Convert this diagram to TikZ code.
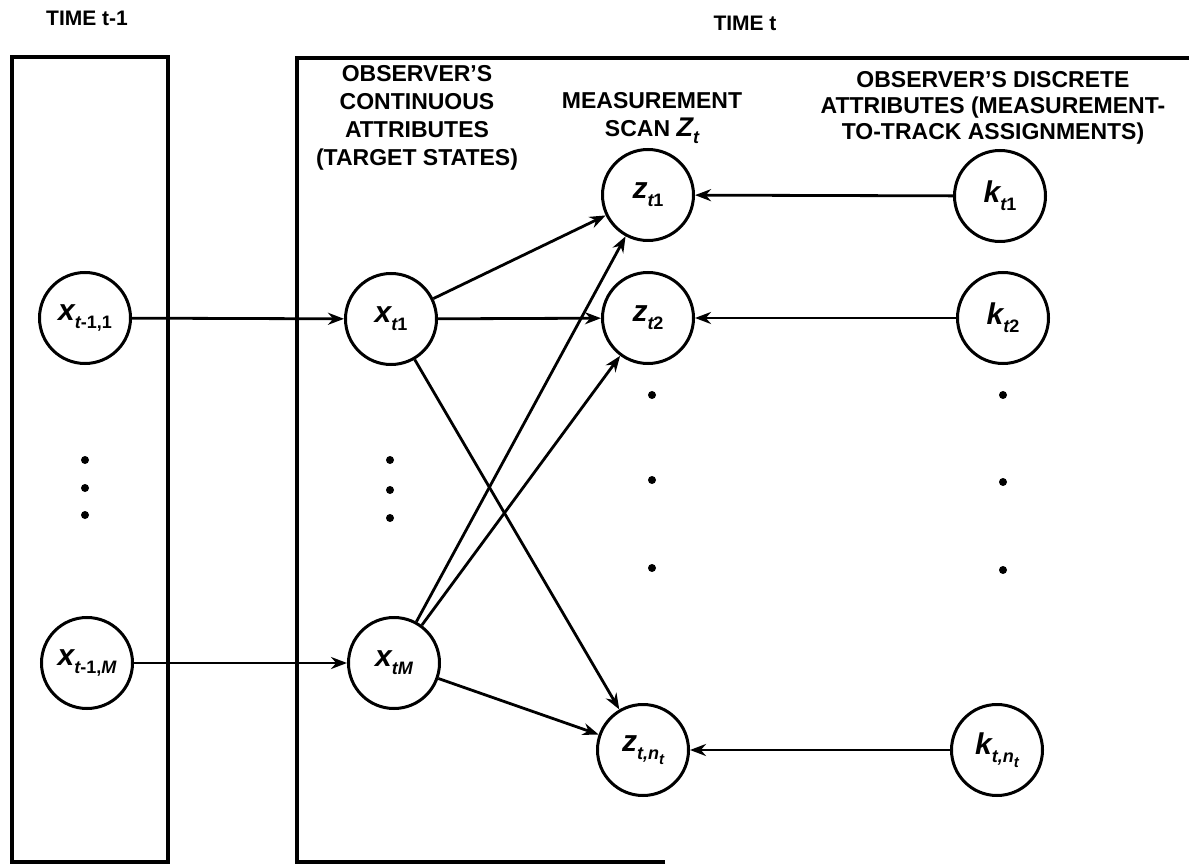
\documentclass[tikz,border=0pt]{standalone}
\usepackage{fontspec}
\setmainfont{Liberation Sans}
\usetikzlibrary{arrows.meta}
\newcommand{\lbsub}[1]{\raisebox{-0.5ex}{\fontsize{18}{18}\selectfont #1}}
\newcommand{\lbsubsub}[1]{\raisebox{-0.55ex}{\fontsize{15}{15}\selectfont #1}}
\newcommand{\lbmain}{\fontsize{30}{30}\selectfont\bfseries\itshape}
\begin{document}
\begin{tikzpicture}[x=1pt,y=-1pt,
  nd/.style={circle, draw, line width=3pt, minimum size=91pt, inner sep=0pt},
  arr/.style={line width=2.8pt, -{Stealth[length=16pt,width=12pt]}},
  hd/.style={font=\fontsize{23}{28}\selectfont\bfseries, align=center, inner sep=0pt},
  tm/.style={font=\fontsize{21}{24}\selectfont\bfseries, inner sep=0pt},
  box/.style={line width=3.4pt},
  dotn/.style={circle, fill, inner sep=0pt, minimum size=8pt}]
\useasboundingbox (0,0) rectangle (1189,866);

% boxes
\draw[box] (12,57) rectangle (168,862);
\draw[box] (665,862) -- (297,862) -- (297,58) -- (1189,58);

% time labels
\node[tm] (tprev) at (87,18) {TIME t-1};
\node[tm] (tcur) at (745,23) {TIME t};

% headings
\node[hd] (hcont) at (417,118) {OBSERVER'S\\CONTINUOUS\\ATTRIBUTES\\(TARGET STATES)};
\node[hd] (hmeas) at (652,118) {MEASUREMENT\\SCAN {\fontsize{27}{27}\selectfont\itshape Z\lbsub{t}}};
\node[hd, font=\fontsize{23}{26}\selectfont\bfseries] (hdisc) at (993,108) {OBSERVER'S DISCRETE\\ATTRIBUTES (MEASUREMENT-\\TO-TRACK ASSIGNMENTS)};

% nodes
\node[nd] (xa1) at (85,318) {\lbmain x\lbsub{t\upshape -1,1}};
\node[nd] (xaM) at (87,663) {\lbmain x\lbsub{t\upshape -1,\itshape M}};
\node[nd] (xt1) at (391,319) {\lbmain x\lbsub{t\upshape 1}};
\node[nd] (xtM) at (394,663) {\lbmain x\lbsub{tM}};
\node[nd] (zt1) at (648,195) {\lbmain z\lbsub{t\upshape 1}};
\node[nd] (zt2) at (648,318) {\lbmain z\lbsub{t\upshape 2}};
\node[nd] (ztn) at (643,750) {\lbmain z\lbsub{t,n\lbsubsub{t}}};
\node[nd] (kt1) at (1000,196) {\lbmain k\lbsub{t\upshape 1}};
\node[nd] (kt2) at (1003,318) {\lbmain k\lbsub{t\upshape 2}};
\node[nd] (ktn) at (997,750) {\lbmain k\lbsub{t,n\lbsubsub{t}}};

% dots
\foreach \y [count=\i] in {460,488,515} \node[dotn] (dl\i) at (85,\y) {};
\foreach \y [count=\i] in {460,490,518} \node[dotn] (dm\i) at (390,\y) {};
\foreach \y [count=\i] in {395,480,568} \node[dotn] (dz\i) at (652,\y) {};
\foreach \y [count=\i] in {395,482,570} \node[dotn] (dk\i) at (1003,\y) {};

% connectors
\draw[arr] (xa1) -- (xt1);
\draw[arr] (xaM) -- (xtM);
\draw[arr] (xt1) -- (zt1);
\draw[arr] (xt1) -- (zt2);
\draw[arr] (xt1) -- (ztn);
\draw[arr] (xtM) -- (zt1);
\draw[arr] (xtM) -- (zt2);
\draw[arr] (xtM) -- (ztn);
\draw[arr] (kt1) -- (zt1);
\draw[arr] (kt2) -- (zt2);
\draw[arr] (ktn) -- (ztn);
\end{tikzpicture}
\end{document}
